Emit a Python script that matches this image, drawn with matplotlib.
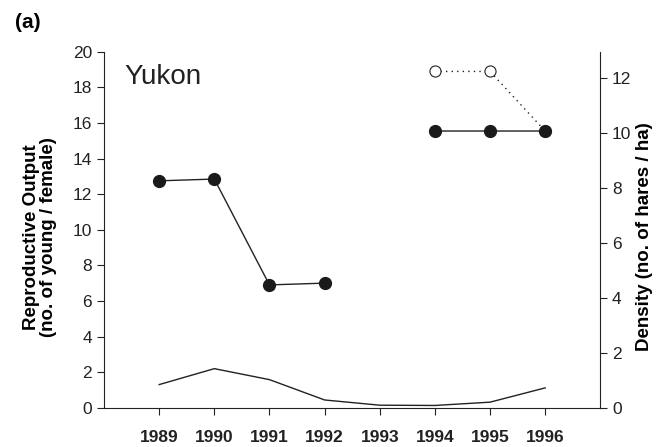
import numpy as np
import matplotlib.pyplot as plt

plt.rcParams['font.family'] = ['Liberation Sans', 'DejaVu Sans']

years = [1989, 1990, 1991, 1992, 1993, 1994, 1995, 1996]
# reproductive output, filled circles (left axis)
output_filled = [12.75, 12.85, 6.9, 7.0, np.nan, 15.55, 15.55, 15.55]
# reproductive output, open circles (left axis)
output_open = [np.nan, np.nan, np.nan, np.nan, np.nan, 18.9, 18.9, 15.55]
# hare density (right axis)
density = [0.84, 1.42, 1.02, 0.28, 0.09, 0.08, 0.2, 0.72]

fig = plt.figure(figsize=(6.67, 4.47), dpi=100)
ax = fig.add_axes([0.156, 0.088, 0.744, 0.796])
ax2 = ax.twinx()

ax2.plot(years, density, '-', color='#222222', lw=1.0)
ax.plot(years, output_open, color='#222222', lw=1.0, ls=(0, (1, 3)),
        marker='o', ms=8, mfc='white', mec='#222222', mew=0.8, zorder=3)
ax.plot(years, output_filled, '-', color='#222222', lw=1.0,
        marker='o', ms=8.5, mfc='#1a1a1a', mec='#1a1a1a', zorder=4)
ax.set_zorder(ax2.get_zorder() + 1)
ax.patch.set_visible(False)

ax.set_xlim(1988, 1997)
ax.set_ylim(0, 20)
ax2.set_ylim(0, 12.95)
ax.set_xticks(years)
ax.set_xticklabels([str(y) for y in years], fontweight='bold', fontsize=13)
ax.set_yticks(range(0, 21, 2))
ax2.set_yticks(range(0, 13, 2))

for a in (ax, ax2):
    a.spines['top'].set_visible(False)
    a.tick_params(direction='out', length=5, width=0.8, labelsize=12.5,
                  colors='#222222')
    for s in a.spines.values():
        s.set_color('#222222')
ax.spines['right'].set_visible(False)
ax2.spines['left'].set_visible(False)
ax2.spines['bottom'].set_visible(False)
ax.tick_params(axis='x', pad=11)

ax.set_ylabel('Reproductive Output\n(no. of young / female)', fontweight='bold',
              fontsize=13.5, linespacing=1.0)
ax.yaxis.set_label_coords(-0.095, 0.48)
ax2.set_ylabel('Density (no. of hares / ha)', fontweight='bold', fontsize=13.5)
ax2.yaxis.set_label_coords(1.072, 0.48)

ax.text(0.04, 0.93, 'Yukon', transform=ax.transAxes, fontsize=20,
        color='#222222', va='center')
fig.text(0.022, 0.95, '(a)', fontweight='bold', fontsize=15, va='center')

fig.savefig('out.png', dpi=100)
plt.close()
